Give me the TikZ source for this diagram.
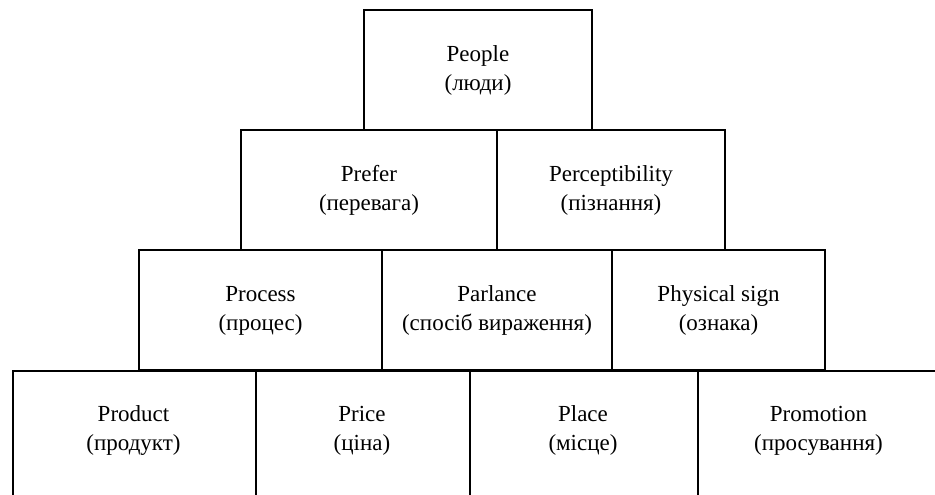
\documentclass[tikz,border=0pt]{standalone}
\usepackage{fontspec}
\setmainfont{Liberation Serif}
\begin{document}
\begin{tikzpicture}[x=1pt,y=-1pt,
  box/.style={draw=black, line width=1.6pt, inner sep=0pt, align=center,
    font=\fontsize{23}{29}\selectfont},
  lbl/.style={inner sep=0pt, align=center, font=\fontsize{23}{29}\selectfont}]
\useasboundingbox (0,0) rectangle (935,495);
\clip (0,0) rectangle (935,495);
% row 4 (open at the bottom, cut by the page)
\node[box, minimum width=243pt, minimum height=150pt, anchor=north west] (product) at (12,370) {};
\node[box, minimum width=214pt, minimum height=150pt, anchor=north west] (price) at (255,370) {};
\node[box, minimum width=228pt, minimum height=150pt, anchor=north west] (place) at (469,370) {};
\node[box, minimum width=245pt, minimum height=150pt, anchor=north west] (promotion) at (697,370) {};
\node[lbl] (productT) at (133.5,430) {\strut Product\\\strut(продукт)};
\node[lbl] (priceT) at (362,430) {\strut Price\\\strut(ціна)};
\node[lbl] (placeT) at (583,430) {\strut Place\\\strut(місце)};
\node[lbl] (promotionT) at (818.5,430) {\strut Promotion\\\strut(просування)};
% row 3
\node[box, minimum width=243pt, minimum height=120pt] (process) at (260.5,310) {\strut Process\\\strut(процес)};
\node[box, minimum width=230pt, minimum height=120pt] (parlance) at (497,310) {\strut Parlance\\\strut(спосіб вираження)};
\node[box, minimum width=213pt, minimum height=120pt] (physical) at (718.5,310) {\strut Physical sign\\\strut(ознака)};
% row 2
\node[box, minimum width=256pt, minimum height=120pt] (prefer) at (369,190) {\strut Prefer\\\strut(перевага)};
\node[box, minimum width=228pt, minimum height=120pt] (percept) at (611,190) {\strut Perceptibility\\\strut(пізнання)};
% row 1
\node[box, minimum width=228pt, minimum height=120pt] (people) at (478,70) {\strut People\\\strut(люди)};
\end{tikzpicture}
\end{document}
